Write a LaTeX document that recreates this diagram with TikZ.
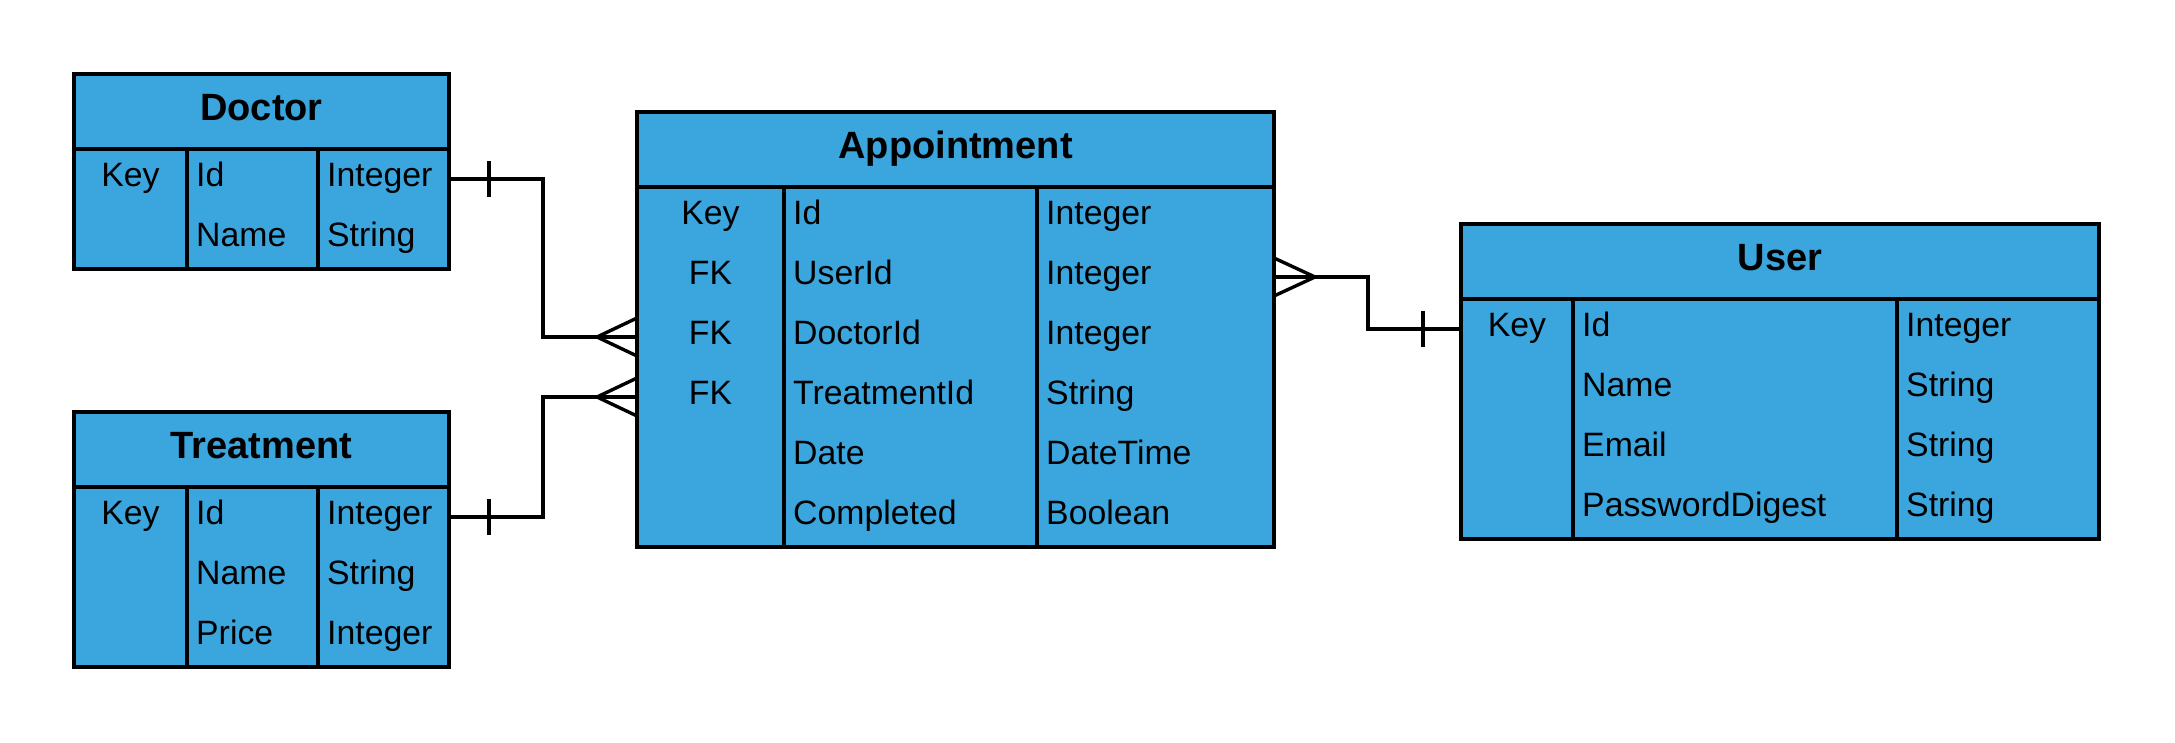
\documentclass[tikz,border=0pt]{standalone}
\usepackage{fontspec}
\setmainfont{Liberation Sans}
\usepackage{tikz}
\usetikzlibrary{positioning,calc}
\definecolor{TableBlue}{HTML}{3BA5DE}

\tikzset{
  tabhead/.style={draw,line width=3.4pt,fill=TableBlue,outer sep=0pt,inner sep=0pt,anchor=north west,
    font=\bfseries\fontsize{38}{45}\selectfont,text height=27.3pt,text depth=9.9pt},
  tabcol/.style={draw,line width=3.4pt,fill=TableBlue,outer sep=0pt,inner sep=0pt},
  keytext/.style={inner sep=0pt,font=\fontsize{33.8}{40}\selectfont,text height=24.4pt,text depth=10.1pt},
  fieldtext/.style={keytext,anchor=west},
  rel/.style={line width=3.4pt}
}

\begin{document}
\begin{tikzpicture}[x=1pt,y=-1pt]
  \path[use as bounding box,fill=white] (0,0) rectangle (2175,743);
  % Doctor
  \node[tabhead,minimum width=375pt,minimum height=75pt] (doc) at (74,74) {Doctor};
  \node[tabcol,below right=0pt of doc.south west,minimum width=113pt,minimum height=120pt] (dk) {};
  \node[tabcol,right=0pt of dk,minimum width=131pt,minimum height=120pt] (dn) {};
  \node[tabcol,right=0pt of dn,minimum width=131pt,minimum height=120pt] (dt) {};
  \foreach \k/\f/\t [count=\i] in {Key/Id/Integer,{}/Name/String}{
    \node[keytext] (dk\i) at ($(dk.north)+(0,60*\i-30)$) {\k};
    \node[fieldtext] (dn\i) at ($(dn.north west)+(9,60*\i-30)$) {\f};
    \node[fieldtext] (dt\i) at ($(dt.north west)+(9,60*\i-30)$) {\t};
  }
  % Treatment
  \node[tabhead,minimum width=375pt,minimum height=75pt] (tr) at (74,412) {Treatment};
  \node[tabcol,below right=0pt of tr.south west,minimum width=113pt,minimum height=180pt] (tk) {};
  \node[tabcol,right=0pt of tk,minimum width=131pt,minimum height=180pt] (tn) {};
  \node[tabcol,right=0pt of tn,minimum width=131pt,minimum height=180pt] (tt) {};
  \foreach \k/\f/\t [count=\i] in {Key/Id/Integer,{}/Name/String,{}/Price/Integer}{
    \node[keytext] (tk\i) at ($(tk.north)+(0,60*\i-30)$) {\k};
    \node[fieldtext] (tn\i) at ($(tn.north west)+(9,60*\i-30)$) {\f};
    \node[fieldtext] (tt\i) at ($(tt.north west)+(9,60*\i-30)$) {\t};
  }
  % Appointment
  \node[tabhead,minimum width=637pt,minimum height=75pt] (ap) at (637,112) {Appointment};
  \node[tabcol,below right=0pt of ap.south west,minimum width=147pt,minimum height=360pt] (ak) {};
  \node[tabcol,right=0pt of ak,minimum width=253pt,minimum height=360pt] (an) {};
  \node[tabcol,right=0pt of an,minimum width=237pt,minimum height=360pt] (at) {};
  \foreach \k/\f/\t [count=\i] in {Key/Id/Integer,FK/UserId/Integer,FK/DoctorId/Integer,
      FK/TreatmentId/String,{}/Date/DateTime,{}/Completed/Boolean}{
    \node[keytext] (ak\i) at ($(ak.north)+(0,60*\i-30)$) {\k};
    \node[fieldtext] (an\i) at ($(an.north west)+(9,60*\i-30)$) {\f};
    \node[fieldtext] (at\i) at ($(at.north west)+(9,60*\i-30)$) {\t};
  }
  % User
  \node[tabhead,minimum width=638pt,minimum height=75pt] (us) at (1461,224) {User};
  \node[tabcol,below right=0pt of us.south west,minimum width=112pt,minimum height=240pt] (uk) {};
  \node[tabcol,right=0pt of uk,minimum width=324pt,minimum height=240pt] (un) {};
  \node[tabcol,right=0pt of un,minimum width=202pt,minimum height=240pt] (ut) {};
  \foreach \k/\f/\t [count=\i] in {Key/Id/Integer,{}/Name/String,{}/Email/String,{}/PasswordDigest/String}{
    \node[keytext] (uk\i) at ($(uk.north)+(0,60*\i-30)$) {\k};
    \node[fieldtext] (un\i) at ($(un.north west)+(9,60*\i-30)$) {\f};
    \node[fieldtext] (ut\i) at ($(ut.north west)+(9,60*\i-30)$) {\t};
  }
  % relations
  \coordinate (docId) at ($(dt.north east)+(0,30)$);
  \coordinate (apDoc) at ($(ak.north west)+(0,150)$);
  \coordinate (trId) at ($(tt.north east)+(0,30)$);
  \coordinate (apTr) at ($(ak.north west)+(0,210)$);
  \coordinate (apUser) at ($(at.north east)+(0,90)$);
  \coordinate (usId) at ($(uk.north west)+(0,30)$);
  \draw[rel] (docId) -- ++(94,0) |- (apDoc);
  \draw[rel] (trId) -- ++(94,0) |- (apTr);
  \draw[rel] (apUser) -- ++(94,0) |- (usId);
  % one side
  \draw[rel] ($(docId)+(40,-18)$) -- ++(0,36);
  \draw[rel] ($(trId)+(40,-18)$) -- ++(0,36);
  \draw[rel] ($(usId)+(-38,-18)$) -- ++(0,36);
  % many side
  \draw[rel] ($(apDoc)+(0,-19)$) -- ++(-40,19) -- ++(40,19);
  \draw[rel] ($(apTr)+(0,-19)$) -- ++(-40,19) -- ++(40,19);
  \draw[rel] ($(apUser)+(0,-19)$) -- ++(41,19) -- ++(-41,19);
\end{tikzpicture}
\end{document}
